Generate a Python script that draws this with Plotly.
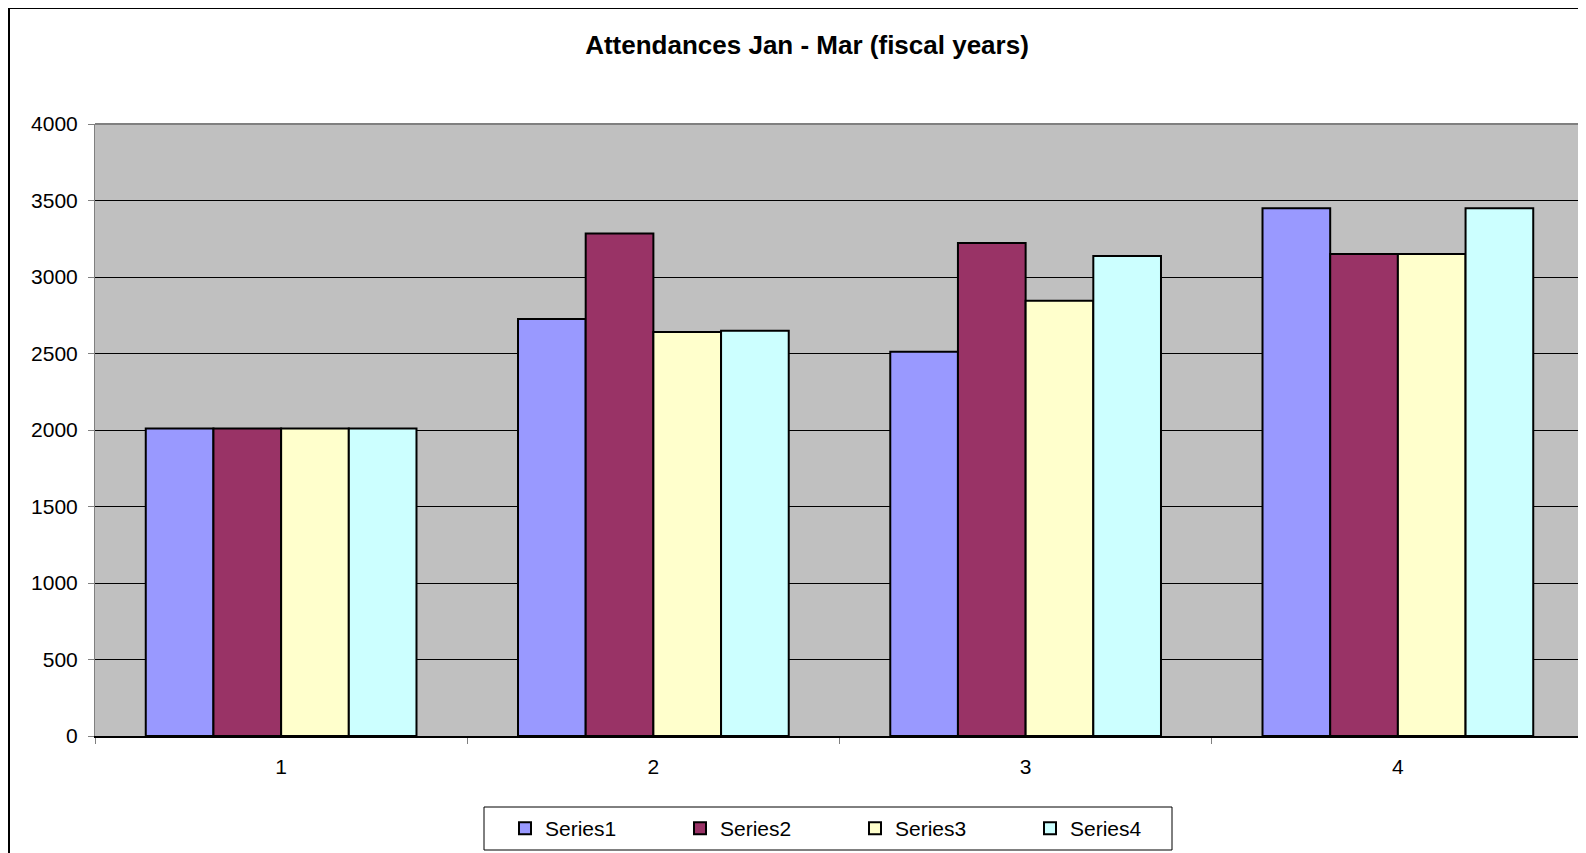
import plotly.graph_objects as go

categories = ["1", "2", "3", "4"]
series_names = ["Series1", "Series2", "Series3", "Series4"]
series1 = [2010, 2725, 2511, 3449]
series2 = [2010, 3285, 3222, 3150]
series3 = [2010, 2640, 2845, 3150]
series4 = [2010, 2649, 3137, 3449]
colors = ["#9999FF", "#993366", "#FFFFCC", "#CCFFFF"]

W, H = 1586, 853
L, R, T, B = 87, 10, 116, 125
pw = W - L - R
ph = H - T - B
plot_bottom = H - B

fig = go.Figure()
for name, vals, col in zip(series_names, [series1, series2, series3, series4], colors):
    fig.add_trace(go.Bar(
        x=categories, y=vals, name=name,
        marker=dict(color=col, line=dict(color="black", width=2)),
    ))

font = "Liberation Sans, Arial, sans-serif"
fig.update_layout(
    width=W, height=H,
    margin=dict(l=L, r=R, t=T, b=B, autoexpand=False),
    paper_bgcolor="white",
    plot_bgcolor="#C0C0C0",
    barmode="group",
    bargap=1.5 / 5.5,
    bargroupgap=0,
    font=dict(family=font, size=21, color="black"),
    title=dict(
        text="<b>Attendances Jan - Mar (fiscal years)</b>",
        x=799 / W, xref="container", xanchor="center",
        y=1 - 37 / H, yref="container", yanchor="middle",
        font=dict(family=font, size=26, color="black"),
    ),
    xaxis=dict(
        type="category",
        showgrid=False,
        ticks="outside", tickson="boundaries", ticklen=6, tickcolor="#808080",
        showline=True, linecolor="black", linewidth=2,
        tickfont=dict(size=21),
        ticklabelstandoff=11,
    ),
    yaxis=dict(
        range=[0, 4000], dtick=500,
        showgrid=True, gridcolor="black", gridwidth=1,
        ticks="outside", ticklen=6, tickcolor="#808080",
        showline=True, linecolor="#808080", linewidth=1,
        zeroline=False,
        tickfont=dict(size=21),
        ticklabelstandoff=6,
    ),
    showlegend=True,
    legend=dict(
        orientation="h",
        x=(847 - L) / pw, xanchor="center",
        y=-72 / ph, yanchor="top",
        borderwidth=0,
        bgcolor="rgba(0,0,0,0)",
        font=dict(size=21),
        entrywidth=130, entrywidthmode="pixels",
        itemwidth=30,
        traceorder="normal",
    ),
)

# legend frame
fig.add_shape(type="rect", xref="paper", yref="paper",
              x0=(476 - L) / pw, x1=(1164 - L) / pw,
              y0=(plot_bottom - 799) / ph, y1=(plot_bottom - 842) / ph,
              line=dict(color="black", width=1), fillcolor="white", layer="below")

# plot area border (top and right, gray)
fig.add_shape(type="line", xref="paper", yref="paper", x0=0, x1=1, y0=1, y1=1,
              line=dict(color="#808080", width=2), layer="above")
fig.add_shape(type="line", xref="paper", yref="paper", x0=1, x1=1, y0=0, y1=1,
              line=dict(color="#808080", width=2), layer="above")

# outer chart border
x0 = (1 - L) / pw
y1 = (H - B - 0) / ph
fig.add_shape(type="line", xref="paper", yref="paper", x0=x0, x1=x0, y0=-2, y1=y1,
              line=dict(color="black", width=2))
fig.add_shape(type="line", xref="paper", yref="paper", x0=x0, x1=(W + 10 - L) / pw, y0=y1, y1=y1,
              line=dict(color="black", width=2))

fig.write_html("out.html")
